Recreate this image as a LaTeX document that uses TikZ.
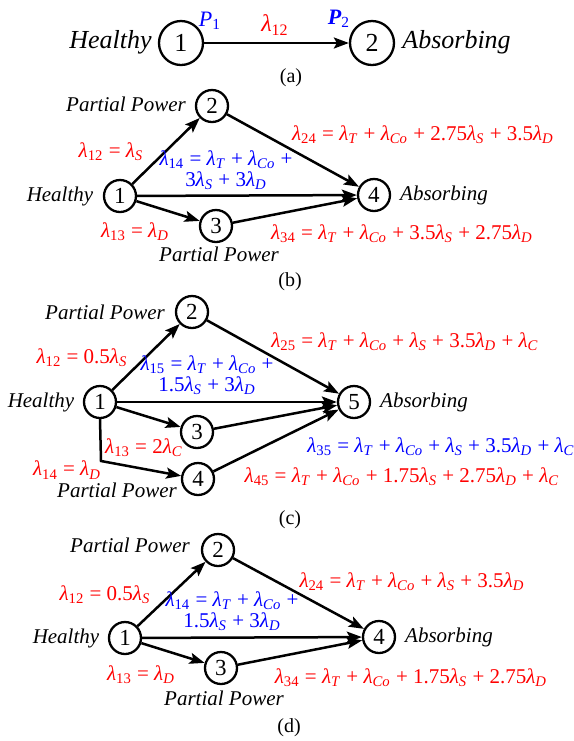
\documentclass[tikz,border=0pt]{standalone}
\usepackage{fontspec}
\setmainfont{Liberation Serif}
\usetikzlibrary{arrows.meta}
\definecolor{lred}{RGB}{255,0,0}
\definecolor{lblue}{RGB}{0,0,255}
\newcommand\lm[1]{\textit{λ}\textsubscript{#1}}
\newcommand\lmi[1]{\textit{λ}\textsubscript{\textit{#1}}}
\begin{document}
\begin{tikzpicture}[x=0.5pt,y=-0.5pt,
 st/.style={circle,draw,line width=1.15pt,minimum size=16pt,inner sep=0pt,font=\fontsize{11.5}{13}\selectfont},
 sta/.style={st,minimum size=22pt,font=\fontsize{13}{15}\selectfont},
 lab/.style={inner sep=0pt,font=\fontsize{10.5}{12.5}\selectfont\itshape},
 laba/.style={inner sep=0pt,font=\fontsize{13}{15}\selectfont\itshape},
 eqr/.style={text=lred,inner sep=0pt,align=center,font=\fontsize{10.5}{10.5}\selectfont},
 eqb/.style={eqr,text=lblue},
 caplab/.style={inner sep=0pt,font=\fontsize{10}{12}\selectfont},
 arr/.style={line width=1.25pt,-{Stealth[length=7.5pt,width=5.5pt,inset=1.5pt]}}
]
\useasboundingbox (0,0) rectangle (574,741);

% ---------- (a) ----------
\node[sta] (a1) at (181,43) {1};
\node[sta] (a2) at (372,43) {2};
\draw[arr] (a1) -- (a2);
\node[laba,anchor=east] (ah) at (152,42) {Healthy};
\node[laba,anchor=west] (aa) at (402,42) {Absorbing};
\node[eqb,font=\fontsize{11}{13}\selectfont] (ap1) at (210,21) {\textit{P}\textsubscript{1}};
\node[eqr,font=\fontsize{12}{14}\selectfont] (al12) at (275,25) {\lm{12}};
\node[eqb,font=\fontsize{11}{13}\selectfont] (ap2) at (339,19) {\textit{\textbf{P}}\textsubscript{2}};
\node[caplab] (capa) at (291,78) {(a)};

% ---------- (b) ----------
\node[st] (b1) at (120,196) {1};
\node[st] (b2) at (212,106) {2};
\node[st] (b3) at (216,226) {3};
\node[st] (b4) at (374,195) {4};
\draw[arr] (b1) -- (b2);
\draw[arr] (b1) -- (b3);
\draw[arr] (b1) -- (b4);
\draw[arr] (b2) -- (b4);
\draw[arr] (b3) -- (b4);
\node[lab] (bpp1) at (126,104) {Partial Power};
\node[lab] (bpp2) at (219,254) {Partial Power};
\node[lab] (bh) at (60,196) {Healthy};
\node[lab] (ba) at (444,195) {Absorbing};
\node[eqr] (bl12) at (111,152) {\lm{12} = \lmi{S}};
\node[eqb] (bl14) at (226,170) {\lm{14} = \lmi{T} + \lmi{Co} +\\3\lmi{S} + 3\lmi{D}};
\node[eqr] (bl24) at (423,135) {\lm{24} = \lmi{T} + \lmi{Co} + 2.75\lmi{S} + 3.5\lmi{D}};
\node[eqr] (bl13) at (135,232) {\lm{13} = \lmi{D}};
\node[eqr] (bl34) at (402,234) {\lm{34} = \lmi{T} + \lmi{Co} + 3.5\lmi{S} + 2.75\lmi{D}};
\node[caplab] (capb) at (290,282) {(b)};

% ---------- (c) ----------
\node[st] (c1) at (100,402) {1};
\node[st] (c2) at (192,312) {2};
\node[st] (c3) at (197,432) {3};
\node[st] (c4) at (198,479) {4};
\node[st] (c5) at (354,402) {5};
\coordinate (ck) at (101,461);
\draw[arr] (c1) -- (c2);
\draw[arr] (c1) -- (c3);
\draw[arr] (c1.south) -- (ck) -- (c4);
\draw[arr] (c1) -- (c5);
\draw[arr] (c2) -- (c5);
\draw[arr] (c3) -- (c5);
\draw[arr] (c4) -- (c5);
\node[lab] (cpp1) at (105,312) {Partial Power};
\node[lab] (cpp2) at (117,490) {Partial Power};
\node[lab] (ch) at (41,402) {Healthy};
\node[lab] (ca) at (424,402) {Absorbing};
\node[eqr] (cl12) at (82,358) {\lm{12} = 0.5\lmi{S}};
\node[eqb] (cl15) at (207,375) {\lm{15} = \lmi{T} + \lmi{Co} +\\1.5\lmi{S} + 3\lmi{D}};
\node[eqr] (cl13) at (144,448) {\lm{13} = 2\lmi{C}};
\node[eqr] (cl14) at (67,470) {\lm{14} = \lmi{D}};
\node[eqr] (cl25) at (405,342) {\lm{25} = \lmi{T} + \lmi{Co} + \lmi{S} + 3.5\lmi{D} + \lmi{C}};
\node[eqb] (cl35) at (441,447) {\lm{35} = \lmi{T} + \lmi{Co} + \lmi{S} + 3.5\lmi{D} + \lmi{C}};
\node[eqr] (cl45) at (402,477) {\lm{45} = \lmi{T} + \lmi{Co} + 1.75\lmi{S} + 2.75\lmi{D} + \lmi{C}};
\node[caplab] (capc) at (290,520) {(c)};

% ---------- (d) ----------
\node[st] (d1) at (125,638) {1};
\node[st] (d2) at (218,550) {2};
\node[st] (d3) at (221,668) {3};
\node[st] (d4) at (379,637) {4};
\draw[arr] (d1) -- (d2);
\draw[arr] (d1) -- (d3);
\draw[arr] (d1) -- (d4);
\draw[arr] (d2) -- (d4);
\draw[arr] (d3) -- (d4);
\node[lab] (dpp1) at (130,545) {Partial Power};
\node[lab] (dpp2) at (224,698) {Partial Power};
\node[lab] (dh) at (66,638) {Healthy};
\node[lab] (da) at (449,637) {Absorbing};
\node[eqr] (dl12) at (105,595) {\lm{12} = 0.5\lmi{S}};
\node[eqb] (dl14) at (232,611) {\lm{14} = \lmi{T} + \lmi{Co} +\\1.5\lmi{S} + 3\lmi{D}};
\node[eqr] (dl24) at (412,582) {\lm{24} = \lmi{T} + \lmi{Co} + \lmi{S} + 3.5\lmi{D}};
\node[eqr] (dl13) at (141,675) {\lm{13} = \lmi{D}};
\node[eqr] (dl34) at (411,678) {\lm{34} = \lmi{T} + \lmi{Co} + 1.75\lmi{S} + 2.75\lmi{D}};
\node[caplab] (capd) at (289,728) {(d)};
\end{tikzpicture}
\end{document}
